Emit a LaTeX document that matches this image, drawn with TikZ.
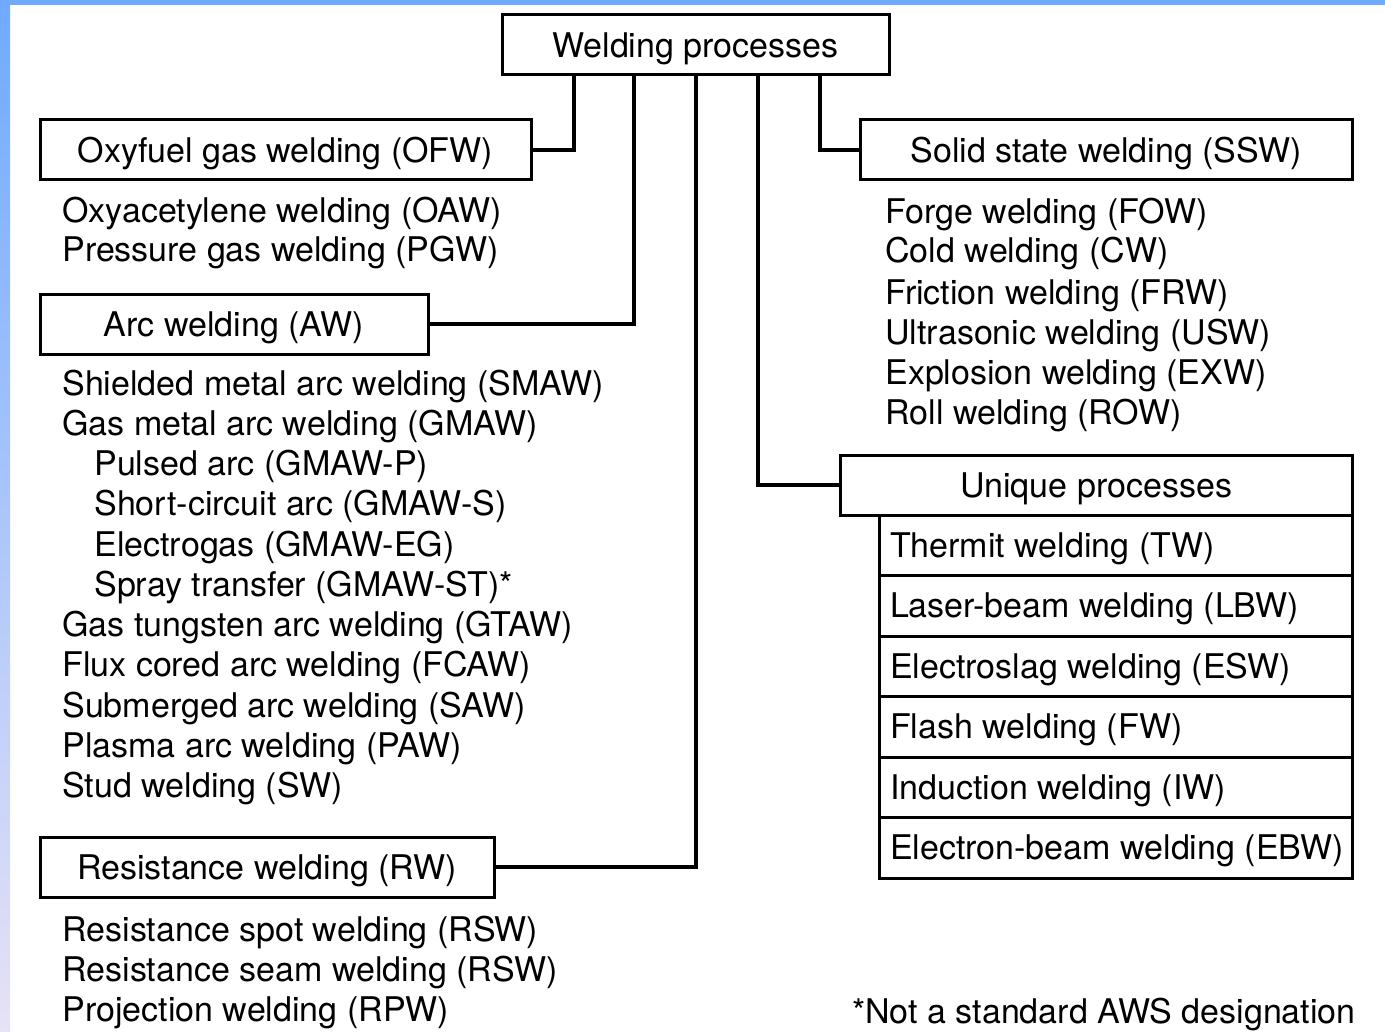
\documentclass[tikz,border=0pt]{standalone}
\usepackage{fontspec}
\setmainfont{TeX Gyre Heros}
\usepackage{xcolor}
\usepackage{tikz}
\usetikzlibrary{positioning}

\definecolor{edgeblue}{RGB}{111,170,255}
\definecolor{edgelilac}{RGB}{231,226,246}

\begin{document}
\begin{tikzpicture}[x=0.5pt, y=-0.5pt, font=\fontsize{17pt}{20pt}\selectfont,
    box/.style={draw=black, line width=1.5pt, fill=white, inner sep=0pt, outer sep=0pt,
        minimum height=30pt, text height=12.2pt, text depth=0pt},
    urow/.style={box, minimum height=30.25pt, minimum width=236.5pt, inner xsep=5.5pt,
        execute at begin node={\hbox to 225.5pt\bgroup}, execute at end node={\hss\egroup}},
    item/.style={anchor=base west, inner sep=0pt},
    link/.style={line width=2pt}]

    % --- FRAME ---
    \useasboundingbox (0,0) rectangle (1385,1032);
    \fill[edgeblue] (0,0) rectangle (1385,5);
    \shade[top color=edgeblue, bottom color=edgelilac] (0,0) rectangle (10,1032);

    % --- MAIN BOXES ---
    \node[box, minimum width=193.5pt] (weld) at (695.5,45) {Welding processes};
    \node[box, minimum width=245.5pt] (ofw) at (285.5,150) {Oxyfuel gas welding (OFW)};
    \node[box, minimum width=194pt] (aw) at (234,324) {Arc welding (AW)};
    \node[box, minimum width=227pt] (rw) at (267,867) {Resistance welding (RW)};
    \node[box, minimum width=246pt] (ssw) at (1106,150) {Solid state welding (SSW)};
    \node[box, minimum width=256pt] (uniq) at (1096,485) {Unique processes};

    % --- UNIQUE PROCESSES (stacked rows) ---
    \node[urow, below=0pt of uniq.south east, anchor=north east] (tw) {Thermit welding (TW)};
    \node[urow, below=0pt of tw] (lbw) {Laser-beam welding (LBW)};
    \node[urow, below=0pt of lbw] (esw) {Electroslag welding (ESW)};
    \node[urow, below=0pt of esw] (fw) {Flash welding (FW)};
    \node[urow, below=0pt of fw] (iw) {Induction welding (IW)};
    \node[urow, below=0pt of iw] (ebw) {Electron-beam welding (EBW)};

    % --- CONNECTORS ---
    \draw[link] (574,0 |- weld.south) |- (ofw.east);
    \draw[link] (634,0 |- weld.south) |- (aw.east);
    \draw[link] (696,0 |- weld.south) |- (rw.east);
    \draw[link] (758,0 |- weld.south) |- (uniq.west);
    \draw[link] (820,0 |- weld.south) |- (ssw.west);

    % --- OXYFUEL LIST ---
    \node[item] (oaw) at (62,222) {Oxyacetylene welding (OAW)};
    \node[item] (pgw) at (62,262) {Pressure gas welding (PGW)};

    % --- ARC LIST ---
    \node[item] (smaw) at (62,395) {Shielded metal arc welding (SMAW)};
    \node[item] (gmaw) at (62,435) {Gas metal arc welding (GMAW)};
    \node[item] (gmawp) at (94,475) {Pulsed arc (GMAW-P)};
    \node[item] (gmaws) at (94,515) {Short-circuit arc (GMAW-S)};
    \node[item] (gmaweg) at (94,556) {Electrogas (GMAW-EG)};
    \node[item] (gmawst) at (94,596) {Spray transfer (GMAW-ST)*};
    \node[item] (gtaw) at (62,636) {Gas tungsten arc welding (GTAW)};
    \node[item] (fcaw) at (62,676) {Flux cored arc welding (FCAW)};
    \node[item] (saw) at (62,717) {Submerged arc welding (SAW)};
    \node[item] (paw) at (62,757) {Plasma arc welding (PAW)};
    \node[item] (sw) at (62,797) {Stud welding (SW)};

    % --- RESISTANCE LIST ---
    \node[item] (rspot) at (62,941) {Resistance spot welding (RSW)};
    \node[item] (rseam) at (62,981) {Resistance seam welding (RSW)};
    \node[item] (rpw) at (62,1021) {Projection welding (RPW)};

    % --- SOLID STATE LIST ---
    \node[item] (fow) at (885,223) {Forge welding (FOW)};
    \node[item] (cw) at (885,263) {Cold welding (CW)};
    \node[item] (frw) at (885,304) {Friction welding (FRW)};
    \node[item] (usw) at (885,344) {Ultrasonic welding (USW)};
    \node[item] (exw) at (885,384) {Explosion welding (EXW)};
    \node[item] (row) at (885,424) {Roll welding (ROW)};

    % --- FOOTNOTE ---
    \node[anchor=base east, inner sep=0pt] (note) at (1356,1023) {*Not a standard AWS designation};

\end{tikzpicture}
\end{document}
